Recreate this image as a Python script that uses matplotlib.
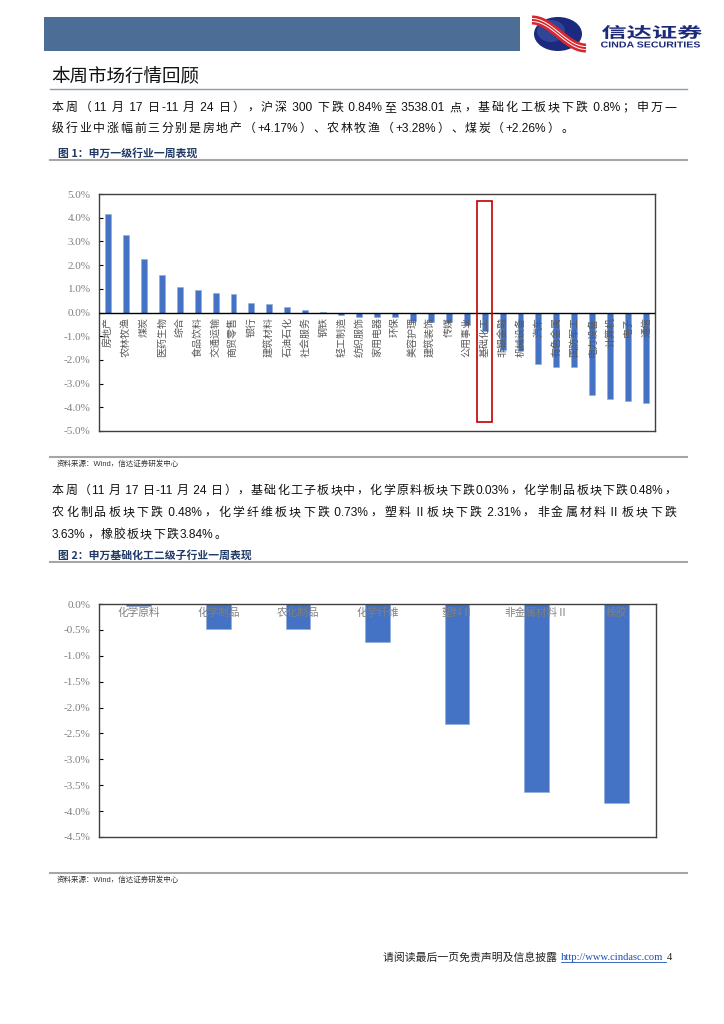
import re

import matplotlib
matplotlib.use("Agg")
import matplotlib.pyplot as plt
import numpy as np
from matplotlib.patches import Ellipse, Rectangle, PathPatch
from matplotlib.textpath import TextPath
from matplotlib.font_manager import FontProperties
from matplotlib.transforms import Affine2D
from matplotlib.ticker import FuncFormatter

# -------------------------------------------------------------
# data

industries = ["房地产", "农林牧渔", "煤炭", "医药生物", "综合", "食品饮料", "交通运输",
              "商贸零售", "银行", "建筑材料", "石油石化", "社会服务", "钢铁", "轻工制造",
              "纺织服饰", "家用电器", "环保", "美容护理", "建筑装饰", "传媒", "公用事业",
              "基础化工", "非银金融", "机械设备", "汽车", "有色金属", "国防军工",
              "电力设备", "计算机", "电子", "通信"]
weekly_chg = [4.17, 3.28, 2.26, 1.60, 1.06, 0.95, 0.84, 0.80, 0.41, 0.35, 0.25, 0.11,
              0.01, -0.10, -0.18, -0.20, -0.20, -0.34, -0.42, -0.42, -0.52, -0.80,
              -1.60, -1.62, -2.17, -2.28, -2.28, -3.46, -3.66, -3.73, -3.81]
highlight = "基础化工"

sub_inds = ["化学原料", "化学制品", "农化制品", "化学纤维", "塑料Ⅱ", "非金属材料Ⅱ", "橡胶"]
sub_chg = [-0.03, -0.48, -0.48, -0.73, -2.31, -3.63, -3.84]

yticks1 = np.arange(-5.0, 5.01, 1.0)
yticks2 = np.arange(-4.5, 0.01, 0.5)

title = "本周市场行情回顾"
para1 = ["本周（11 月 17 日-11 月 24 日），沪深 300 下跌 0.84%至 3538.01 点，基础化工板块下跌 0.8%；申万一",
         "级行业中涨幅前三分别是房地产（+4.17%）、农林牧渔（+3.28%）、煤炭（+2.26%）。"]
para2 = ["本周（11 月 17 日-11 月 24 日），基础化工子板块中，化学原料板块下跌0.03%，化学制品板块下跌0.48%，",
         "农化制品板块下跌 0.48%，化学纤维板块下跌 0.73%，塑料Ⅱ板块下跌 2.31%，非金属材料Ⅱ板块下跌",
         "3.63%，橡胶板块下跌3.84%。"]
fig1_title = "图 1：申万一级行业一周表现"
fig2_title = "图 2：申万基础化工二级子行业一周表现"
source = "资料来源：Wind，信达证券研发中心"

# -------------------------------------------------------------

W, H = 724, 1024
BAR = "#4472c4"
GRAY = "#7f7f7f"
CJK = ["Noto Sans CJK SC", "DejaVu Sans"]
MIX = ["Liberation Sans", "Noto Sans CJK SC", "DejaVu Sans"]

fig = plt.figure(figsize=(W / 100, H / 100), dpi=100)
bg = fig.add_axes([0, 0, 1, 1])
bg.set_xlim(0, W)
bg.set_ylim(H, 0)
bg.axis("off")
renderer = fig.canvas.get_renderer()


def ax_rect(left, top, right, bottom):
    return [left / W, 1 - bottom / H, (right - left) / W, (bottom - top) / H]


def stretched(s, x0, x1, top, bottom, prop, color):
    tp = TextPath((0, 0), s, size=10, prop=prop)
    ext = tp.get_extents()
    tr = (Affine2D().translate(-ext.x0, -ext.y0)
          .scale((x1 - x0) / ext.width, -(bottom - top) / ext.height)
          .translate(x0, bottom))
    bg.add_patch(PathPatch(tr.transform_path(tp), fc=color, ec="none"))


def justify(s, x0, x1, y, size, gap=None):
    toks = re.findall(r"[A-Za-z0-9.%+\-:/ ]+|.", s)
    widths = []
    for t in toks:
        tt = bg.text(0, 0, t, fontsize=size, family=MIX)
        widths.append(tt.get_window_extent(renderer=renderer).width)
        tt.remove()
    if gap is None:
        gap = (x1 - x0 - sum(widths)) / (len(toks) - 1)
    x = x0
    for t, w in zip(toks, widths):
        bg.text(x, y, t, fontsize=size, family=MIX, va="center", ha="left", color="#111111")
        x += w + gap
    return gap


# header bar + logo
bg.add_patch(Rectangle((44, 17), 476, 34, color="#4b6d96", lw=0))
bg.add_patch(Ellipse((558, 34), 48, 34, color="#1b2a7e", lw=0))
bg.add_patch(Ellipse((551, 31), 28, 22, color="#3e58a8", lw=0, alpha=0.6))
t = np.linspace(0, 1, 60)
cx = 532 + 54 * t
cy = 20 + 28 * (1 - np.cos(np.pi * t)) / 2
bg.plot(cx, cy, color="#d8262e", lw=6.5, solid_capstyle="butt")
bg.plot(cx, cy - 1.5, color="white", lw=0.7)
bg.plot(cx, cy + 1.5, color="white", lw=0.7)
stretched("信达证券", 602, 702, 25, 39, FontProperties(family="Noto Sans CJK SC", weight="bold"), "#1c2a78")
stretched("CINDA SECURITIES", 601, 700, 41.5, 47.5, FontProperties(family="Liberation Sans", weight="bold"), "#1c2a78")

# section title
bg.text(51, 77, title, fontsize=13.3, family=CJK, va="center", color="#111111")
bg.plot([50, 687], [89, 89], color="#8c9bb2", lw=1)

g = justify(para1[0], 52, 676, 108, 8.6)
justify(para1[1], 52, 676, 129, 8.6, gap=g * 0.85)

bg.text(58, 153, fig1_title, fontsize=7.8, family=CJK, weight="bold", va="center", color="#1f3864")
bg.plot([50, 687], [160, 160], color="#a6a6a6", lw=1.5)
bg.plot([50, 687], [457, 457], color="#a6a6a6", lw=1.5)
bg.text(57, 464, source, fontsize=5.4, family=MIX, va="center", color="#333333")

g = justify(para2[0], 52, 676, 491, 8.6)
justify(para2[1], 52, 676, 513, 8.6)
justify(para2[2], 52, 676, 535, 8.6, gap=g)

bg.text(58, 555, fig2_title, fontsize=7.8, family=CJK, weight="bold", va="center", color="#1f3864")
bg.plot([50, 687], [562, 562], color="#a6a6a6", lw=1.5)
bg.plot([50, 687], [873, 873], color="#a6a6a6", lw=1.5)
bg.text(57, 880, source, fontsize=5.4, family=MIX, va="center", color="#333333")

# footer
bg.text(559, 957, "请阅读最后一页免责声明及信息披露 ", fontsize=7.8, family=CJK, ha="right", va="center", color="#222222")
bg.text(561, 957, "http://www.cindasc.com", fontsize=7.6, family=["Liberation Serif"], ha="left", va="center", color="#1a4fb5")
bg.plot([561, 666], [962, 962], color="#1a4fb5", lw=0.6)
bg.text(667, 957, "4", fontsize=7.6, family=["Liberation Serif"], ha="left", va="center", color="#222222")


def style_axes(ax):
    for sp in ax.spines.values():
        sp.set_color("#404040")
        sp.set_linewidth(1)
    ax.tick_params(axis="y", direction="in", length=3, labelsize=8, labelcolor=GRAY, pad=6)
    ax.tick_params(axis="x", length=0, labelbottom=False)
    for lab in ax.get_yticklabels():
        lab.set_family(["Liberation Serif"])


pct = FuncFormatter(lambda v, p: "{:.1f}%".format(v))

# chart 1
ax1 = fig.add_axes(ax_rect(99, 194, 655, 431))
x1 = np.arange(len(industries))
ax1.bar(x1, weekly_chg, width=0.33, color=BAR, edgecolor="#8faadc", linewidth=0.4, zorder=2)
ax1.axhline(0, color="black", lw=1, zorder=3)
ax1.set_xlim(-0.5, len(industries) - 0.5)
ax1.set_ylim(-5, 5)
ax1.set_yticks(yticks1)
ax1.yaxis.set_major_formatter(pct)
style_axes(ax1)
for i, name in enumerate(industries):
    ax1.text(i, -0.18, name, rotation=90, ha="center", va="top", fontsize=7.2,
             family=CJK, color="#595959", zorder=4)
hi = industries.index(highlight)
ax1.add_patch(Rectangle((hi - 0.42, -4.6), 0.84, 9.3, fill=False, ec="#c00000", lw=1.2, zorder=5))

# chart 2
ax2 = fig.add_axes(ax_rect(99, 604, 656, 837))
x2 = np.arange(len(sub_inds))
ax2.bar(x2, sub_chg, width=0.31, color=BAR, edgecolor="#8faadc", linewidth=0.4, zorder=2)
ax2.set_xlim(-0.5, len(sub_inds) - 0.5)
ax2.set_ylim(-4.5, 0)
ax2.set_yticks(yticks2)
ax2.yaxis.set_major_formatter(pct)
style_axes(ax2)
for i, name in enumerate(sub_inds):
    ax2.text(i, -0.17, name, ha="center", va="center", fontsize=7.7,
             family=CJK, color="#808080", zorder=4)

fig.savefig("out.png", dpi=100)
